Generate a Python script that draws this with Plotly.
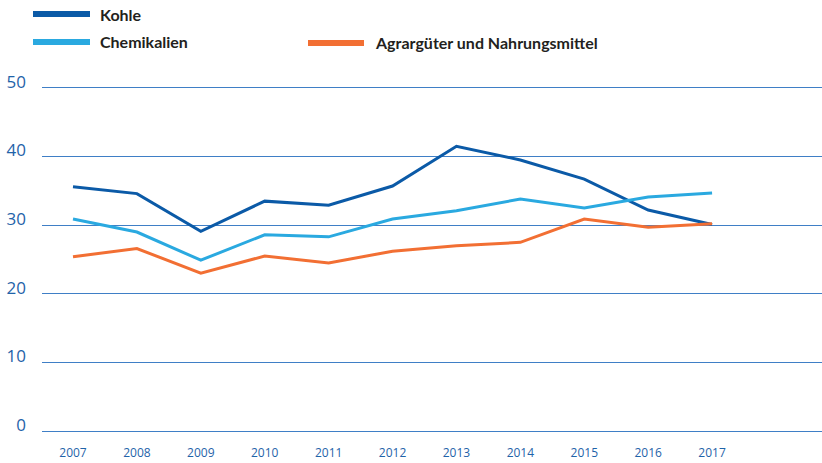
import plotly.graph_objects as go

years = [2007, 2008, 2009, 2010, 2011, 2012, 2013, 2014, 2015, 2016, 2017]
kohle = [35.6, 34.6, 29.1, 33.5, 32.9, 35.7, 41.5, 39.5, 36.7, 32.2, 30.1]
chemikalien = [30.9, 29.0, 24.9, 28.6, 28.3, 30.9, 32.1, 33.8, 32.5, 34.1, 34.7]
agrar = [25.4, 26.6, 23.0, 25.5, 24.5, 26.2, 27.0, 27.5, 30.9, 29.7, 30.2]
y_ticks = [0, 10, 20, 30, 40, 50]

names = ["Kohle", "Chemikalien", "Agrargüter und Nahrungsmittel"]
colors = ["#0b5aa7", "#2aa9e0", "#f26f33"]
series = [kohle, chemikalien, agrar]

fig = go.Figure()
for n, c, s in zip(names, colors, series):
    fig.add_trace(go.Scatter(x=years, y=s, mode="lines", name=n,
                             line=dict(color=c, width=3), showlegend=False))

# legend drawn as line samples + text
W, H = 822, 463
legend_items = [
    (names[0], colors[0], 33, 90, 14, 98),
    (names[1], colors[1], 33, 90, 42, 98),
    (names[2], colors[2], 308, 364, 43, 373),
]
for n, c, x0, x1, y, tx in legend_items:
    fig.add_shape(type="line", xref="paper", yref="paper",
                  x0=(x0 - 42) / 780, x1=(x1 - 42) / 780,
                  y0=1 + (81 - y) / 357, y1=1 + (81 - y) / 357,
                  line=dict(color=c, width=6))
    fig.add_annotation(text=n, xref="paper", yref="paper",
                       x=(tx - 42) / 780, y=1 + (81 - y) / 357,
                       xanchor="left", yanchor="middle", showarrow=False,
                       font=dict(family="Lato", size=16, color="#231f20",
                                 weight="bold"))

fig.update_layout(
    width=W, height=H,
    margin=dict(l=42, r=0, t=81, b=25),
    plot_bgcolor="white", paper_bgcolor="white",
    xaxis=dict(range=[2006.515, 2018.72], tickvals=years,
               ticktext=[str(y) for y in years], showgrid=False,
               zeroline=False, showline=False, ticks="",
               ticklabelstandoff=6,
               tickfont=dict(family="Open Sans", size=12, color="#1f63a9")),
    yaxis=dict(range=[-1, 51], tickvals=y_ticks, showgrid=True,
               gridcolor="#3f7fc6", gridwidth=1.3, zeroline=False,
               showline=False, ticks="", ticklabelstandoff=15,
               ticklabelshift=-6,
               tickfont=dict(family="Open Sans", size=17, color="#1f63a9")),
)

fig.write_html("out.html")
